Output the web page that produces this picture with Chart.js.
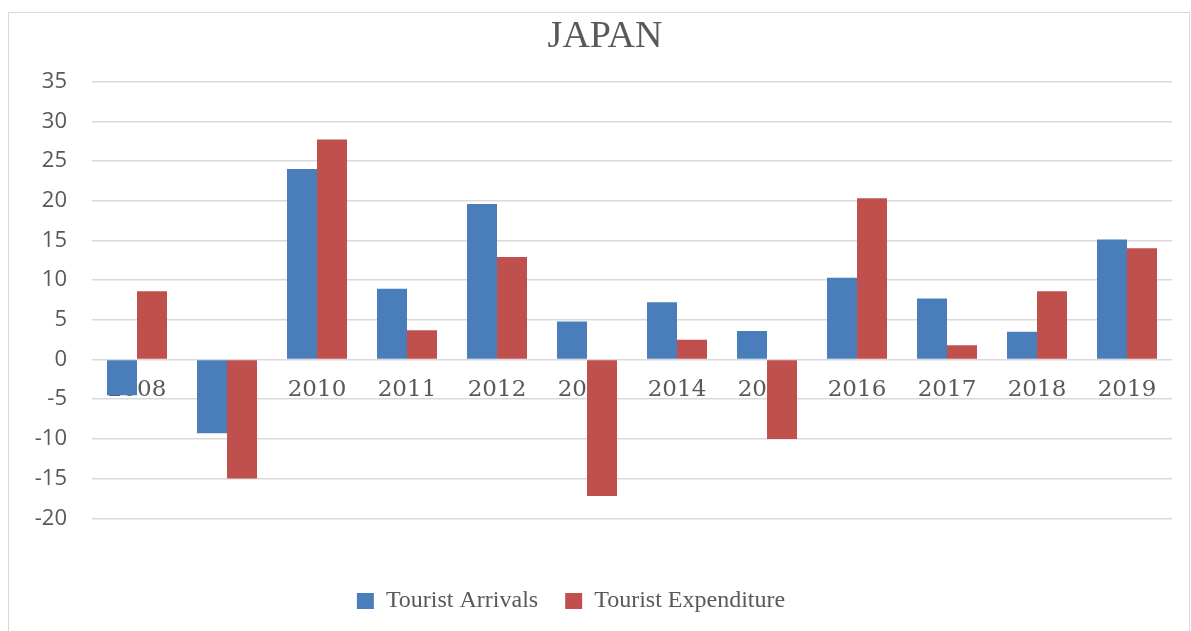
<!DOCTYPE html>
<html>
<head>
<meta charset="utf-8">
<script src="https://cdn.jsdelivr.net/npm/chart.js@4"></script>
<style>
  html, body { margin: 0; padding: 0; background: #fff; }
  #wrap { width: 1191px; height: 631px; }
</style>
</head>
<body>
<div id="wrap"><canvas id="japan" width="1191" height="631"></canvas></div>
<script>
// data
let years = ["2008", "2009", "2010", "2011", "2012", "2013", "2014", "2015", "2016", "2017", "2018", "2019"];
let arrivals = [-4.5, -9.3, 24.0, 8.9, 19.6, 4.8, 7.2, 3.6, 10.3, 7.7, 3.5, 15.1];
let expenditure = [8.6, -15.0, 27.7, 3.7, 12.9, -17.2, 2.5, -10.0, 20.3, 1.8, 8.6, 14.0];
let yTicks = [-20, -15, -10, -5, 0, 5, 10, 15, 20, 25, 30, 35];

// thin outer border like the excel chart frame
let frame = {
  id: 'frame',
  beforeDraw(chart) {
    let c = chart.ctx;
    c.save();
    c.fillStyle = '#fff';
    c.fillRect(0, 0, chart.width, chart.height);
    c.strokeStyle = '#d9d9d9';
    c.lineWidth = 1;
    c.strokeRect(8.5, 12.5, 1181, 640);
    c.restore();
  }
};

// nudge title right and legend left (excel centres them a bit differently)
let nudge = {
  id: 'nudge',
  afterLayout(chart) {
    chart.titleBlock.left += 19;
    chart.titleBlock.right += 19;
    chart.legend.left -= 15;
    chart.legend.right -= 15;
  }
};

let context = document.querySelector("#japan").getContext('2d');
new Chart(context, {
  type: 'bar',
  data: {
    labels: years,
    datasets: [{
      label: 'Tourist Arrivals',
      data: arrivals,
      backgroundColor: '#4a7ebb',
      categoryPercentage: 0.667,
      barPercentage: 1.0
    }, {
      label: 'Tourist Expenditure',
      data: expenditure,
      backgroundColor: '#c0504d',
      categoryPercentage: 0.667,
      barPercentage: 1.0
    }]
  },
  options: {
    responsive: false,
    animation: false,
    layout: { padding: { left: 0, right: 19, top: 0, bottom: 8 } },
    plugins: {
      title: {
        display: true,
        text: 'JAPAN',
        color: '#595959',
        font: { family: 'Liberation Serif', size: 38, weight: 'normal' },
        padding: { top: 14, bottom: 22 }
      },
      legend: {
        position: 'bottom',
        labels: {
          color: '#595959',
          font: { family: 'Liberation Serif', size: 24 },
          boxWidth: 17,
          boxHeight: 16,
          padding: 27
        }
      },
      tooltip: { enabled: false }
    },
    scales: {
      x: {
        position: { y: 0 },
        grid: { display: false },
        border: { display: false },
        ticks: {
          color: '#595959',
          font: { family: 'DejaVu Serif', size: 23 },
          padding: 9,
          maxRotation: 0,
          autoSkip: false
        }
      },
      y: {
        // empty band below -20 like the excel plot area
        min: -25.5,
        max: 35,
        afterBuildTicks(scale) {
          scale.ticks = yTicks.map(v => ({ value: v }));
        },
        afterFit(scale) { scale.width = 92; },
        grid: { color: '#d9d9d9', lineWidth: 1.5, drawTicks: false },
        border: { display: false },
        ticks: {
          color: '#595959',
          font: { family: 'Open Sans', size: 22 },
          padding: 25
        }
      }
    }
  },
  plugins: [frame, nudge]
});
</script>
</body>
</html>
